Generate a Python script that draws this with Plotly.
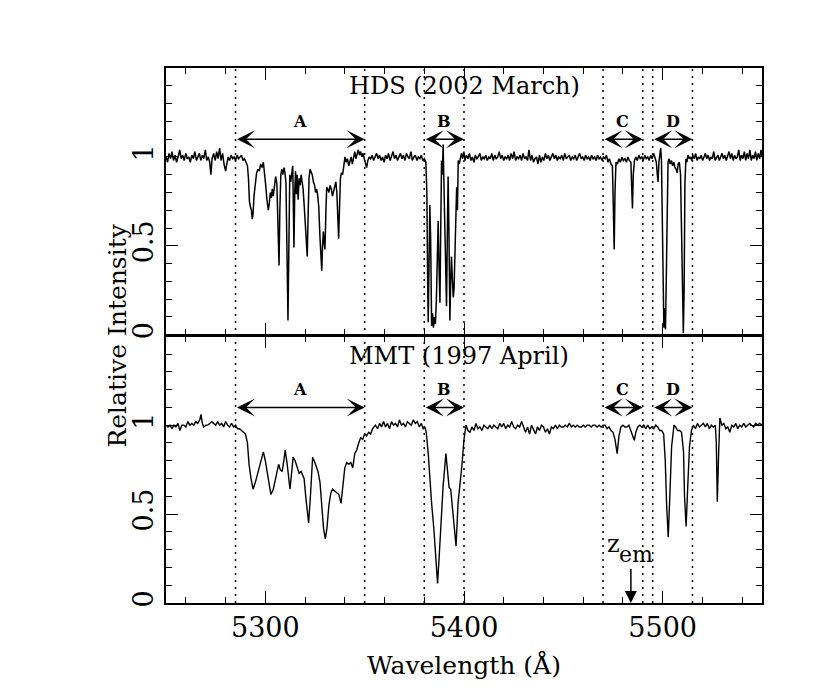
import plotly.graph_objects as go

# HDS (2002 March) spectrum
hds_wave = [
    5250.0, 5250.8, 5251.5, 5252.3, 5253.0, 5253.8, 5254.6, 5255.3, 5256.1, 5256.9,
    5257.6, 5258.4, 5259.1, 5260.0, 5260.7, 5261.5, 5262.2, 5263.0, 5263.8, 5264.5,
    5265.3, 5266.0, 5266.8, 5267.5, 5268.3, 5269.0, 5269.8, 5270.5, 5271.3, 5272.0,
    5272.6, 5273.2, 5274.0, 5274.8, 5275.5, 5276.2, 5277.0, 5277.7, 5278.5, 5279.2,
    5280.0, 5280.6, 5281.3, 5282.0, 5282.8, 5283.5, 5284.3, 5285.0, 5285.8, 5286.5,
    5287.3, 5288.0, 5288.8, 5289.5, 5290.3, 5291.0, 5291.5, 5292.0, 5292.5, 5293.0,
    5293.4, 5293.8, 5294.3, 5295.0, 5295.6, 5296.3, 5297.0, 5297.6, 5298.3, 5299.0,
    5299.6, 5300.2, 5300.8, 5301.5, 5302.0, 5302.5, 5303.0, 5303.5, 5304.0, 5304.6,
    5305.2, 5305.8, 5306.4, 5306.9, 5307.3, 5307.8, 5308.3, 5308.8, 5309.4, 5309.9,
    5310.4, 5310.9, 5311.4, 5311.8, 5312.3, 5312.8, 5313.3, 5313.8, 5314.1, 5314.4,
    5314.8, 5315.2, 5315.6, 5316.0, 5316.5, 5317.0, 5317.5, 5318.0, 5318.5, 5319.0,
    5319.6, 5320.2, 5320.7, 5321.1, 5321.5, 5322.0, 5322.5, 5323.0, 5323.6, 5324.2,
    5324.8, 5325.3, 5325.8, 5326.3, 5326.9, 5327.5, 5328.0, 5328.4, 5328.8, 5329.2,
    5329.6, 5330.0, 5330.5, 5330.9, 5331.4, 5332.0, 5332.6, 5333.2, 5333.8, 5334.3,
    5334.9, 5335.5, 5336.0, 5336.5, 5336.9, 5337.3, 5337.8, 5338.3, 5338.9, 5339.5,
    5340.1, 5340.7, 5341.3, 5342.0, 5342.6, 5343.2, 5343.8, 5344.4, 5345.0, 5345.6,
    5346.2, 5346.8, 5347.4, 5348.0, 5348.6, 5349.2, 5349.8, 5350.4, 5351.0, 5351.6,
    5352.3, 5353.0, 5353.8, 5354.5, 5355.3, 5356.0, 5356.8, 5357.5, 5358.3, 5359.0,
    5359.8, 5360.5, 5361.3, 5362.0, 5362.8, 5363.5, 5364.3, 5365.0, 5365.8, 5366.5,
    5367.3, 5368.0, 5368.8, 5369.5, 5370.3, 5371.0, 5371.8, 5372.5, 5373.3, 5374.0,
    5374.8, 5375.5, 5376.3, 5377.0, 5377.8, 5378.5, 5379.3, 5380.0, 5380.8, 5381.3,
    5381.7, 5382.0, 5382.4, 5382.8, 5383.2, 5383.7, 5384.2, 5384.6, 5385.1, 5385.6,
    5386.1, 5386.6, 5387.0, 5387.4, 5387.9, 5388.3, 5388.7, 5389.1, 5389.5, 5389.9,
    5390.4, 5390.8, 5391.2, 5391.6, 5392.0, 5392.4, 5392.9, 5393.3, 5393.7, 5394.2,
    5394.6, 5395.0, 5395.4, 5395.9, 5396.3, 5396.7, 5397.1, 5397.6, 5398.1, 5398.7,
    5399.3, 5399.9, 5400.5, 5401.2, 5402.0, 5402.7, 5403.5, 5404.2, 5405.0, 5405.7,
    5406.5, 5407.2, 5408.0, 5408.7, 5409.5, 5410.2, 5411.0, 5411.7, 5412.5, 5413.2,
    5414.0, 5414.7, 5415.5, 5416.2, 5417.0, 5417.7, 5418.5, 5419.2, 5420.0, 5420.7,
    5421.5, 5422.2, 5423.0, 5423.7, 5424.5, 5425.2, 5426.0, 5426.7, 5427.5, 5428.2,
    5429.0, 5429.7, 5430.5, 5431.2, 5432.0, 5432.7, 5433.5, 5434.2, 5435.0, 5435.7,
    5436.5, 5437.2, 5438.0, 5438.7, 5439.5, 5440.2, 5441.0, 5441.7, 5442.5, 5443.2,
    5444.0, 5444.7, 5445.5, 5446.2, 5447.0, 5447.7, 5448.5, 5449.2, 5450.0, 5450.7,
    5451.5, 5452.2, 5453.0, 5453.7, 5454.5, 5455.2, 5456.0, 5456.7, 5457.5, 5458.2,
    5459.0, 5459.7, 5460.5, 5461.2, 5462.0, 5462.7, 5463.5, 5464.2, 5465.0, 5465.7,
    5466.5, 5467.2, 5468.0, 5468.7, 5469.5, 5470.2, 5471.0, 5471.7, 5472.5, 5473.2,
    5474.0, 5474.7, 5475.2, 5475.6, 5476.0, 5476.5, 5477.2, 5478.0, 5478.7, 5479.5,
    5480.2, 5481.0, 5481.7, 5482.5, 5483.2, 5484.0, 5484.5, 5484.8, 5485.2, 5485.8,
    5486.5, 5487.2, 5488.0, 5488.7, 5489.5, 5490.2, 5491.0, 5491.7, 5492.5, 5493.2,
    5494.0, 5494.7, 5495.5, 5496.2, 5496.8, 5497.3, 5497.7, 5498.1, 5498.6, 5499.0,
    5499.4, 5499.8, 5500.2, 5500.6, 5501.0, 5501.4, 5501.8, 5502.2, 5502.7, 5503.2,
    5503.8, 5504.4, 5505.0, 5505.6, 5506.2, 5506.8, 5507.3, 5507.8, 5508.4, 5509.0,
    5509.5, 5510.0, 5510.4, 5510.8, 5511.2, 5511.7, 5512.2, 5512.8, 5513.4, 5514.0,
    5514.6, 5515.2, 5515.9, 5516.6, 5517.3, 5518.0, 5518.7, 5519.4, 5520.1, 5520.8,
    5521.5, 5522.2, 5522.9, 5523.6, 5524.3, 5525.0, 5525.7, 5526.4, 5527.1, 5527.8,
    5528.5, 5529.2, 5529.9, 5530.6, 5531.3, 5532.0, 5532.7, 5533.4, 5534.1, 5534.8,
    5535.5, 5536.2, 5536.9, 5537.6, 5538.3, 5539.0, 5539.7, 5540.4, 5541.1, 5541.8,
    5542.5, 5543.2, 5543.9, 5544.6, 5545.3, 5546.0, 5546.7, 5547.4, 5548.1, 5548.8,
    5549.5, 5550.0,
]
hds_flux = [
    1.00, 0.97, 1.02, 0.99, 1.03, 0.98, 1.01, 0.97, 1.00, 1.04,
    0.99, 1.01, 0.98, 1.02, 0.99, 1.00, 0.97, 1.01, 0.99, 1.03,
    0.98, 1.00, 1.02, 0.98, 1.01, 0.99, 1.04, 0.98, 1.00, 0.97,
    0.90, 0.99, 1.02, 0.98, 1.03, 0.99, 1.05, 0.98, 1.02, 0.96,
    0.92, 0.96, 1.00, 0.98, 1.01, 0.99, 1.00, 0.98, 1.01, 0.99,
    1.00, 1.01, 0.98, 0.99, 0.97, 0.95, 0.88, 0.75, 0.72, 0.70,
    0.65, 0.68, 0.78, 0.86, 0.91, 0.93, 0.92, 0.96, 0.94, 0.97,
    0.92, 0.84, 0.76, 0.70, 0.74, 0.80, 0.77, 0.82, 0.78, 0.86,
    0.89, 0.85, 0.62, 0.39, 0.70, 0.90, 0.93, 0.90, 0.94, 0.91,
    0.85, 0.50, 0.08, 0.45, 0.90, 0.86, 0.93, 0.95, 0.72, 0.49,
    0.80, 0.92, 0.79, 0.90, 0.76, 0.88, 0.84, 0.90, 0.86, 0.82,
    0.72, 0.60, 0.50, 0.44, 0.65, 0.88, 0.93, 0.91, 0.90, 0.86,
    0.84, 0.80, 0.82, 0.79, 0.72, 0.55, 0.42, 0.36, 0.50, 0.58,
    0.52, 0.48, 0.70, 0.83, 0.82, 0.80, 0.84, 0.82, 0.78, 0.81,
    0.84, 0.86, 0.80, 0.62, 0.54, 0.70, 0.88, 0.91, 0.90, 0.95,
    1.00, 0.97, 0.99, 0.95, 0.98, 1.00, 0.96, 1.01, 1.03, 0.99,
    1.02, 1.04, 1.01, 1.03, 1.00, 1.02, 0.99, 0.96, 0.94, 0.98,
    1.00, 0.99, 1.01, 0.98, 1.00, 1.02, 0.99, 1.01, 0.98, 1.00,
    0.97, 1.01, 0.99, 1.02, 0.98, 1.00, 1.03, 0.99, 1.01, 0.98,
    1.00, 1.02, 0.99, 1.01, 0.98, 1.02, 1.00, 0.99, 1.03, 0.98,
    1.00, 1.01, 0.98, 1.00, 0.99, 1.01, 0.98, 0.99, 0.97, 0.80,
    0.30, 0.07, 0.40, 0.73, 0.55, 0.05, 0.12, 0.04, 0.10, 0.06,
    0.20, 0.45, 0.64, 0.40, 0.18, 0.60, 0.98, 0.90, 1.07, 0.85,
    0.55, 0.30, 0.16, 0.55, 0.89, 0.60, 0.08, 0.30, 0.44, 0.30,
    0.21, 0.26, 0.50, 0.78, 0.83, 0.70, 0.98, 0.96, 1.00, 1.02,
    0.99, 1.03, 0.98, 1.01, 0.99, 1.02, 0.98, 1.00, 0.97, 1.01,
    0.99, 1.00, 1.02, 0.98, 1.00, 0.99, 1.01, 0.98, 1.00, 0.99,
    1.02, 0.98, 1.01, 0.99, 1.00, 1.03, 0.99, 1.01, 0.98, 1.00,
    0.99, 1.01, 0.98, 1.02, 0.99, 1.03, 0.98, 1.00, 0.99, 1.01,
    0.98, 1.02, 0.99, 1.00, 0.98, 1.04, 0.98, 1.01, 0.97, 0.99,
    1.00, 0.96, 1.01, 0.97, 1.00, 0.98, 1.02, 0.99, 1.01, 0.98,
    1.00, 1.02, 0.99, 1.01, 0.98, 1.00, 0.99, 1.01, 0.98, 1.02,
    0.99, 1.00, 1.01, 0.98, 1.00, 0.99, 1.01, 0.98, 1.00, 1.02,
    0.99, 1.00, 0.98, 1.01, 0.99, 1.00, 0.98, 1.01, 0.99, 1.00,
    0.98, 1.01, 0.99, 1.00, 0.98, 1.00, 0.99, 1.01, 0.97, 0.99,
    0.96, 0.95, 0.70, 0.48, 0.80, 0.97, 0.96, 0.99, 0.97, 1.00,
    0.98, 0.99, 0.97, 1.00, 0.98, 0.97, 0.80, 0.71, 0.90, 0.98,
    1.00, 0.98, 1.01, 0.99, 1.00, 0.98, 1.01, 0.99, 1.00, 0.98,
    1.01, 0.99, 1.02, 0.99, 0.97, 0.90, 0.86, 0.97, 1.03, 1.05,
    0.98, 0.70, 0.20, 0.04, 0.15, 0.03, 0.30, 0.80, 0.97, 0.99,
    0.96, 0.98, 0.95, 0.97, 0.94, 0.93, 0.91, 0.96, 0.97, 0.90,
    0.60, 0.15, 0.01, 0.25, 0.85, 0.99, 0.97, 1.01, 0.99, 1.00,
    0.98, 1.01, 0.99, 1.02, 0.98, 1.00, 0.99, 1.01, 0.98, 1.00,
    1.02, 0.99, 1.01, 0.98, 1.00, 0.99, 1.03, 0.98, 1.00, 1.01,
    0.98, 1.00, 1.02, 0.99, 1.01, 0.98, 1.00, 1.03, 0.99, 1.02,
    0.98, 1.01, 0.99, 1.00, 1.04, 0.98, 1.01, 0.99, 1.03, 0.98,
    1.02, 0.99, 1.04, 0.98, 1.01, 0.99, 1.03, 0.98, 1.02, 0.99,
    1.04, 1.00,
]

# MMT (1997 April) spectrum
mmt_wave = [
    5250.0, 5251.0, 5252.0, 5253.0, 5254.0, 5255.0, 5256.0, 5257.0, 5258.0, 5259.0,
    5260.0, 5261.0, 5262.0, 5263.0, 5264.0, 5265.0, 5266.0, 5267.0, 5267.6, 5268.3,
    5269.0, 5270.0, 5271.0, 5272.0, 5273.0, 5274.0, 5275.0, 5276.0, 5277.0, 5278.0,
    5279.0, 5280.0, 5281.0, 5282.0, 5283.0, 5284.0, 5285.0, 5286.0, 5287.0, 5288.0,
    5289.0, 5290.0, 5291.0, 5291.8, 5292.8, 5293.8, 5295.0, 5296.0, 5297.0, 5298.0,
    5299.0, 5300.0, 5301.0, 5302.0, 5302.8, 5304.0, 5305.0, 5306.0, 5306.7, 5307.5,
    5308.5, 5309.3, 5310.0, 5311.0, 5312.4, 5313.3, 5314.0, 5315.0, 5316.0, 5317.0,
    5318.0, 5318.8, 5319.5, 5320.5, 5321.8, 5322.8, 5323.8, 5324.6, 5325.5, 5326.5,
    5327.5, 5328.5, 5329.3, 5330.2, 5331.0, 5332.0, 5333.0, 5333.9, 5335.0, 5336.0,
    5337.0, 5338.1, 5339.0, 5340.0, 5341.0, 5342.0, 5343.0, 5344.0, 5345.0, 5346.0,
    5347.0, 5348.0, 5349.0, 5350.0, 5351.0, 5352.0, 5353.0, 5354.0, 5355.4, 5356.5,
    5357.5, 5358.5, 5359.5, 5360.5, 5361.5, 5362.5, 5363.5, 5364.5, 5365.5, 5366.5,
    5367.5, 5368.5, 5369.5, 5370.5, 5371.5, 5372.5, 5373.5, 5374.5, 5375.5, 5376.5,
    5377.5, 5378.5, 5379.5, 5380.3, 5381.0, 5382.0, 5383.0, 5383.7, 5384.8, 5386.0,
    5386.7, 5387.5, 5388.5, 5389.5, 5390.9, 5391.8, 5392.5, 5393.3, 5394.2, 5395.2,
    5396.0, 5397.0, 5398.0, 5399.0, 5400.0, 5401.0, 5402.0, 5403.0, 5404.0, 5405.0,
    5406.0, 5407.0, 5408.0, 5409.0, 5410.0, 5411.0, 5412.0, 5413.0, 5414.0, 5415.0,
    5416.0, 5417.0, 5418.0, 5419.0, 5420.0, 5421.0, 5422.0, 5423.0, 5424.0, 5425.0,
    5426.0, 5427.0, 5428.0, 5429.0, 5430.0, 5431.0, 5432.0, 5433.0, 5434.0, 5435.0,
    5436.0, 5437.0, 5438.0, 5439.0, 5440.0, 5441.0, 5442.0, 5443.0, 5444.0, 5445.0,
    5446.0, 5447.0, 5448.0, 5449.0, 5450.0, 5451.0, 5452.0, 5453.0, 5454.0, 5455.0,
    5456.0, 5457.0, 5458.0, 5459.0, 5460.0, 5461.0, 5462.0, 5463.0, 5464.0, 5465.0,
    5466.0, 5467.0, 5468.0, 5469.0, 5470.0, 5471.0, 5472.0, 5473.0, 5474.0, 5475.0,
    5476.0, 5477.1, 5478.0, 5479.0, 5480.0, 5481.0, 5482.0, 5483.0, 5484.0, 5485.0,
    5485.7, 5486.5, 5487.5, 5488.5, 5489.5, 5490.5, 5491.5, 5492.5, 5493.5, 5494.5,
    5495.5, 5496.5, 5497.5, 5498.5, 5499.5, 5500.5, 5501.3, 5502.0, 5502.8, 5503.6,
    5504.5, 5505.7, 5506.5, 5507.5, 5508.5, 5509.5, 5510.5, 5511.0, 5511.8, 5512.6,
    5513.5, 5514.5, 5515.5, 5516.5, 5517.5, 5518.5, 5519.5, 5520.5, 5521.5, 5522.5,
    5523.5, 5524.5, 5525.5, 5526.5, 5527.0, 5527.5, 5528.2, 5528.8, 5529.8, 5530.8,
    5531.8, 5532.8, 5533.8, 5534.8, 5535.8, 5536.8, 5537.8, 5538.8, 5539.8, 5540.8,
    5541.8, 5542.8, 5543.8, 5544.8, 5545.8, 5546.8, 5547.8, 5548.8, 5550.0,
]
mmt_flux = [
    1.00, 0.99, 1.00, 0.98, 1.00, 0.99, 1.01, 0.97, 1.00, 1.00,
    0.99, 1.02, 1.00, 1.01, 1.00, 1.02, 1.01, 1.03, 1.06, 1.01,
    0.99, 1.00, 1.00, 1.01, 1.02, 1.01, 1.00, 1.02, 1.00, 1.01,
    0.99, 1.02, 1.00, 0.99, 1.01, 0.99, 1.00, 0.98, 0.98, 0.97,
    0.96, 0.95, 0.90, 0.78, 0.70, 0.64, 0.68, 0.72, 0.76, 0.80,
    0.85, 0.80, 0.74, 0.66, 0.61, 0.64, 0.70, 0.76, 0.78, 0.75,
    0.74, 0.80, 0.86, 0.78, 0.64, 0.74, 0.82, 0.80, 0.76, 0.73,
    0.74, 0.72, 0.70, 0.58, 0.45, 0.62, 0.82, 0.80, 0.77, 0.74,
    0.68, 0.55, 0.42, 0.36, 0.42, 0.55, 0.62, 0.64, 0.63, 0.62,
    0.61, 0.56, 0.66, 0.76, 0.79, 0.78, 0.79, 0.76, 0.84, 0.86,
    0.90, 0.93, 0.92, 0.95, 0.94, 0.96, 0.95, 0.98, 1.00, 0.98,
    1.01, 0.99, 1.02, 0.99, 1.01, 0.98, 1.02, 1.00, 1.01, 0.99,
    1.03, 1.00, 1.01, 0.99, 1.02, 1.01, 1.00, 1.03, 1.01, 1.02,
    0.99, 1.01, 0.98, 0.99, 0.96, 0.84, 0.65, 0.56, 0.42, 0.22,
    0.11, 0.26, 0.48, 0.66, 0.84, 0.72, 0.65, 0.64, 0.52, 0.38,
    0.32, 0.56, 0.66, 0.78, 0.92, 1.00, 0.97, 0.96, 0.99, 0.97,
    1.01, 0.98, 0.99, 0.97, 1.00, 0.99, 0.98, 1.00, 0.98, 1.00,
    0.99, 0.98, 1.01, 0.99, 1.01, 0.98, 1.00, 0.99, 1.02, 0.99,
    0.98, 1.00, 0.99, 1.02, 0.99, 0.96, 0.99, 0.95, 1.00, 0.97,
    0.95, 0.99, 0.97, 1.00, 0.99, 0.96, 0.98, 0.95, 0.99, 0.98,
    1.00, 0.98, 1.00, 0.99, 0.99, 1.00, 0.99, 1.01, 0.99, 1.00,
    0.99, 1.00, 0.99, 0.99, 1.00, 0.99, 1.00, 1.00, 0.99, 1.00,
    1.00, 0.99, 1.00, 0.99, 1.00, 1.00, 0.98, 0.99, 0.97, 0.96,
    0.92, 0.84, 0.94, 0.99, 1.00, 0.99, 0.99, 1.00, 0.97, 0.93,
    0.915, 0.96, 0.99, 1.00, 0.99, 1.00, 0.98, 1.00, 0.98, 0.99,
    0.98, 1.00, 0.99, 0.97, 0.97, 0.95, 0.80, 0.55, 0.37, 0.60,
    0.88, 1.00, 0.99, 0.97, 0.97, 0.96, 0.85, 0.60, 0.43, 0.65,
    0.88, 0.97, 1.00, 0.98, 1.01, 0.99, 1.00, 1.01, 0.99, 1.01,
    0.98, 1.00, 0.99, 1.00, 0.90, 0.57, 0.85, 1.04, 1.00, 1.01,
    0.98, 0.99, 0.96, 1.00, 0.99, 1.01, 0.98, 1.00, 0.99, 1.01,
    0.99, 1.00, 1.01, 1.00, 0.99, 1.01, 1.00, 1.01, 1.00,
]

# velocity components A-D and their wavelength limits
comp_names = ["A", "B", "C", "D"]
comp_lo = [5285, 5380, 5470, 5495]
comp_hi = [5350, 5400, 5490, 5515]
z_em_wave = 5484

SERIF = "DejaVu Serif"

fig = go.Figure()
fig.add_trace(go.Scatter(x=hds_wave, y=hds_flux, xaxis="x2", yaxis="y2", mode="lines",
                         line=dict(color="black", width=1.5), showlegend=False))
fig.add_trace(go.Scatter(x=mmt_wave, y=mmt_flux, xaxis="x", yaxis="y", mode="lines",
                         line=dict(color="black", width=1.4), showlegend=False))

# dotted component limits through both panels
for w in sorted(set(comp_lo + comp_hi)):
    fig.add_shape(type="line", xref="x", yref="paper", x0=w, x1=w, y0=0, y1=1,
                  line=dict(color="black", width=1.5, dash="2px,5px"))

ann = []
for yref in ["y2", "y"]:
    for name, lo, hi in zip(comp_names, comp_lo, comp_hi):
        ann.append(dict(x=hi, y=1.1, ax=lo, ay=1.1, xref="x", yref=yref, axref="x", ayref=yref,
                        text="", showarrow=True, arrowside="end+start",
                        arrowhead=3, startarrowhead=3, arrowsize=2, startarrowsize=2,
                        arrowwidth=1.5, arrowcolor="black"))
        ann.append(dict(x=(lo + hi) / 2, y=1.2, xref="x", yref=yref, text="<b>" + name + "</b>",
                        showarrow=False, font=dict(family=SERIF, size=16, color="black")))

ann.append(dict(x=5341, y=1.40, xref="x", yref="y2", xanchor="left", text="HDS (2002 March)",
                showarrow=False, font=dict(family=SERIF, size=24, color="black")))
ann.append(dict(x=5341, y=1.39, xref="x", yref="y", xanchor="left", text="MMT (1997 April)",
                showarrow=False, font=dict(family=SERIF, size=24, color="black")))

# z_em marker
ann.append(dict(x=z_em_wave, y=0.0, ax=z_em_wave, ay=0.2, xref="x", yref="y", axref="x", ayref="y",
                text="", showarrow=True, arrowhead=2, arrowsize=1.6, arrowwidth=1.5,
                arrowcolor="black"))
ann.append(dict(x=5475.5, y=0.33, xref="x", yref="y", text="z", showarrow=False,
                font=dict(family=SERIF, size=24, color="black")))
ann.append(dict(x=5486.5, y=0.27, xref="x", yref="y", text="em", showarrow=False,
                font=dict(family=SERIF, size=22, color="black")))

# axis titles
ann.append(dict(x=0.5, y=-0.116, xref="paper", yref="paper", xanchor="center", yanchor="middle",
                text="Wavelength (Å)", showarrow=False,
                font=dict(family=SERIF, size=25, color="black")))
ann.append(dict(x=(117 - 166) / 596.0, y=0.5, xref="paper", yref="paper", xanchor="center",
                yanchor="middle", text="Relative Intensity", textangle=-90, showarrow=False,
                font=dict(family=SERIF, size=25, color="black")))

xcommon = dict(range=[5250, 5550], tickmode="array", tickvals=[5300, 5400, 5500],
               ticks="inside", ticklen=12, tickwidth=1.2, tickcolor="black",
               showline=True, linecolor="black", linewidth=1.5,
               mirror="ticks", showgrid=False, zeroline=False,
               minor=dict(dtick=20, ticks="inside", ticklen=6, tickwidth=1.2,
                          tickcolor="black", showgrid=False),
               tickfont=dict(family=SERIF, size=27, color="black"))
ycommon = dict(range=[0, 1.5], tickmode="array", tickvals=[0, 0.5, 1, 1.5],
               ticktext=["0", "0.5", "1", ""],
               tickangle=-90, ticks="inside", ticklen=12, tickwidth=1.2, tickcolor="black",
               showline=True, linecolor="black", linewidth=1.5, mirror="ticks",
               showgrid=False, zeroline=False,
               minor=dict(dtick=0.1, ticks="inside", ticklen=6, tickwidth=1.2,
                          tickcolor="black", showgrid=False),
               tickfont=dict(family=SERIF, size=27, color="black"))

fig.update_layout(
    width=830, height=691,
    margin=dict(l=158, r=76, t=60, b=96),
    paper_bgcolor="white", plot_bgcolor="rgba(0,0,0,0)",
    xaxis=dict(domain=[0, 1], anchor="y", **xcommon),
    xaxis2=dict(domain=[0, 1], anchor="y2", matches="x", showticklabels=False, **xcommon),
    yaxis=dict(domain=[0, 0.4986], anchor="x", **ycommon),
    yaxis2=dict(domain=[0.5014, 1], anchor="x2", **ycommon),
    annotations=ann,
    showlegend=False,
)

fig.write_html("out.html")
